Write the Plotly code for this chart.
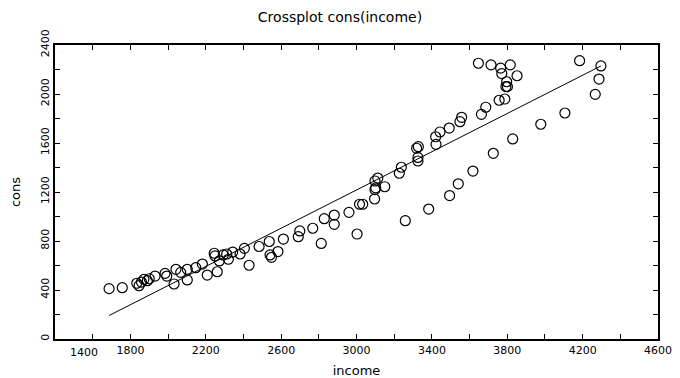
import plotly.graph_objects as go

# income (x) and cons (y)
income = [1687, 1757, 1834, 1846, 1859, 1872, 1890, 1900, 1931, 1984, 1993, 2032,
          2042, 2067, 2102, 2102, 2147, 2182, 2208, 2245, 2249, 2261, 2272, 2293,
          2311, 2320, 2343, 2382, 2405, 2430, 2483, 2537, 2541, 2549, 2583, 2612,
          2691, 2699, 2768, 2813, 2829, 2882, 2882, 2960, 3003, 3016, 3033, 3096,
          3098, 3102, 3098, 3113, 3150, 3227, 3238, 3259, 3326, 3326, 3319, 3328,
          3383, 3420, 3422, 3443, 3492, 3494, 3540, 3549, 3558, 3618, 3663, 3686,
          3647, 3714, 3726, 3757, 3787, 3765, 3771, 3797, 3793, 3801, 3816, 3829,
          3852, 3978, 4106, 4184, 4267, 4287, 4297]
cons = [411, 419, 455, 435, 465, 487, 476, 492, 514, 536, 514, 449,
        569, 544, 569, 482, 582, 612, 522, 700, 678, 549, 637, 686,
        694, 651, 710, 694, 740, 602, 755, 796, 686, 667, 714, 816,
        835, 882, 904, 780, 982, 1012, 936, 1034, 857, 1100, 1100, 1143,
        1220, 1234, 1290, 1314, 1243, 1353, 1402, 966, 1482, 1453, 1557, 1570,
        1061, 1651, 1589, 1690, 1722, 1171, 1267, 1774, 1810, 1371, 1834, 1892,
        2251, 2238, 1516, 1949, 1959, 2211, 2167, 2100, 2061, 2060, 2238, 1633,
        2149, 1753, 1845, 2272, 1997, 2122, 2229]

x_ticks = list(range(1400, 4601, 200))
x_labels = [str(v) if (v - 1400) % 400 == 0 and v != 1400 else "" for v in x_ticks]
y_ticks = list(range(0, 2401, 200))
y_labels = [str(v) if v % 400 == 0 else "" for v in y_ticks]

# fitted line parameters
fit_intercept = -1125.0
fit_slope = 0.7805
line_x = [min(income), max(income)]
line_y = [fit_intercept + fit_slope * v for v in line_x]

FONT = "DejaVu Sans"

fig = go.Figure()
fig.add_trace(go.Scatter(x=line_x, y=line_y, mode="lines",
                         line=dict(color="black", width=1), hoverinfo="skip"))
fig.add_trace(go.Scatter(x=income, y=cons, mode="markers",
                         marker=dict(symbol="circle-open", size=10,
                                     color="black", line=dict(width=1.2))))

axis_common = dict(showgrid=False, zeroline=False, showline=True, linecolor="black",
                   linewidth=2, ticks="inside", ticklen=5, tickwidth=1,
                   tickcolor="black", mirror="ticks", automargin=False,
                   tickfont=dict(family=FONT, size=11, color="black"))

fig.update_xaxes(range=[1400, 4600], tickmode="array", tickvals=x_ticks,
                 ticktext=x_labels,
                 title=dict(text="income", font=dict(family=FONT, size=13, color="black"),
                            standoff=10),
                 **axis_common)
fig.update_yaxes(range=[0, 2400], tickmode="array", tickvals=y_ticks,
                 ticktext=y_labels, tickangle=-90,
                 title=dict(text="cons", font=dict(family=FONT, size=13, color="black"),
                            standoff=22),
                 **axis_common)

fig.add_annotation(text="1400", x=1400, y=0, xref="x", yref="paper",
                   xanchor="center", yanchor="top", xshift=29, yshift=-5,
                   showarrow=False, font=dict(family=FONT, size=11, color="black"))

# the page places the figure 8px in from the top-left corner
fig.update_layout(
    width=672, height=370,
    margin=dict(l=47, r=22, t=37, b=39),
    paper_bgcolor="white", plot_bgcolor="white",
    showlegend=False,
    title=dict(text="Crossplot cons(income)", x=332 / 672, xref="container",
               xanchor="center", y=1 - 9 / 370, yref="container", yanchor="middle",
               automargin=False,
               font=dict(family=FONT, size=14, color="black")),
)

fig.write_html("out.html")
